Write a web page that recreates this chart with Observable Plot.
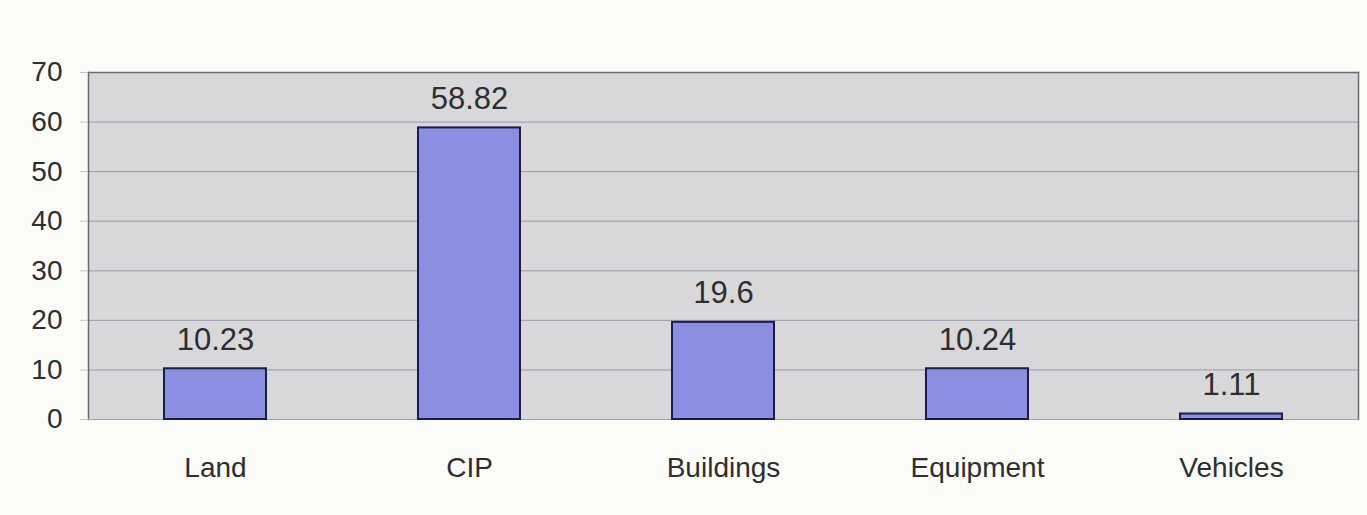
<!DOCTYPE html>
<html>
<head>
<meta charset="utf-8">
<script src="https://cdn.jsdelivr.net/npm/d3@7"></script>
<script src="https://cdn.jsdelivr.net/npm/@observablehq/plot@0.6"></script>
<style>
  html, body { margin: 0; padding: 0; background: #fbfbf8; }
  #chart { width: 1367px; height: 515px; overflow: hidden; }
  svg { font-family: "Liberation Sans", Arial, sans-serif; }
</style>
</head>
<body>
<div id="chart"></div>
<script>
const categories = ["Land", "CIP", "Buildings", "Equipment", "Vehicles"];
const values = [10.23, 58.82, 19.6, 10.24, 1.11];
const labels = ["10.23", "58.82", "19.6", "10.24", "1.11"];
const yTicks = [0, 10, 20, 30, 40, 50, 60, 70];

const data = categories.map((c, i) => ({category: c, value: values[i], label: labels[i]}));

const chart = Plot.plot({
  width: 1367,
  height: 515,
  marginLeft: 88,
  marginRight: 9,
  marginTop: 72,
  marginBottom: 96,
  style: {background: "transparent", fontFamily: "Liberation Sans, Arial, sans-serif", color: "#2e2e30"},
  x: {domain: categories, paddingInner: 0.6, paddingOuter: 0.3, label: null},
  y: {domain: [0, 70], label: null},
  marks: [
    Plot.frame({fill: "#d8d8da", stroke: "none"}),
    Plot.gridY(yTicks, {stroke: "#6a7090", strokeOpacity: 0.6, strokeWidth: 1}),
    Plot.frame({stroke: "#6a6a72", strokeWidth: 1.5, anchor: "left"}),
    Plot.frame({stroke: "#6a6a72", strokeWidth: 1.5, anchor: "top"}),
    Plot.frame({stroke: "#6a6a72", strokeWidth: 1.5, anchor: "right"}),
    Plot.frame({stroke: "#a0a0a6", strokeWidth: 1, anchor: "bottom"}),
    Plot.barY(data, {x: "category", y: "value", fill: "#8a8fe2", stroke: "#1c1c4a", strokeWidth: 2}),
    Plot.text(data, {x: "category", y: "value", text: "label", lineAnchor: "bottom", dy: -19, fontSize: 31, fill: "#2e2e30"}),
    Plot.axisY(yTicks, {tickSize: 8, tickPadding: 18, fontSize: 28, stroke: "#c4c4c4", fill: "#2e2e30", tickFormat: d => String(d)}),
    Plot.axisX({tickSize: 0, tickPadding: 38, fontSize: 28, fill: "#2e2e30"})
  ]
});
document.getElementById("chart").appendChild(chart);
</script>
</body>
</html>
